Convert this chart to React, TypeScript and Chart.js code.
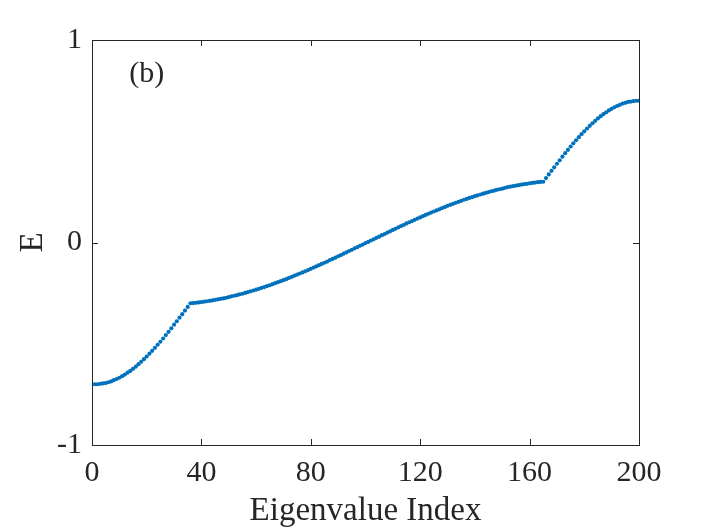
import React, { useEffect, useRef } from "react";
import { Chart, registerables } from "chart.js";
import type { Plugin } from "chart.js";

Chart.register(...registerables);

// eigenvalues, index 1..200, split by band
const BAND_1 = [
  -0.700, -0.700, -0.698, -0.696, -0.694, -0.690, -0.686, -0.680, -0.674, -0.668,
  -0.660, -0.652, -0.643, -0.634, -0.624, -0.613, -0.601, -0.589, -0.576, -0.563,
  -0.549, -0.535, -0.520, -0.505, -0.490, -0.474, -0.457, -0.441, -0.424, -0.406,
  -0.389, -0.371, -0.354, -0.336, -0.318, -0.300,
];
const BAND_2_LOW = [
  -0.299, -0.298, -0.296, -0.294, -0.292, -0.290, -0.288, -0.286, -0.283, -0.281,
  -0.278, -0.276, -0.273, -0.270, -0.266, -0.263, -0.260, -0.256, -0.253, -0.249,
  -0.245, -0.241, -0.237, -0.233, -0.229, -0.224, -0.220, -0.215, -0.211, -0.206,
  -0.201, -0.196, -0.191, -0.186, -0.181, -0.175, -0.170, -0.164, -0.159, -0.153,
  -0.148, -0.142, -0.136, -0.130, -0.124, -0.118, -0.112, -0.106, -0.100, -0.094,
  -0.087, -0.081, -0.075, -0.068, -0.062, -0.055, -0.049, -0.042, -0.036, -0.029,
  -0.023, -0.016, -0.010, -0.003,
];
const BAND_2_HIGH = [
  0.003, 0.010, 0.016, 0.023, 0.029, 0.036, 0.042, 0.049, 0.055, 0.062,
  0.068, 0.075, 0.081, 0.087, 0.094, 0.100, 0.106, 0.112, 0.118, 0.124,
  0.130, 0.136, 0.142, 0.148, 0.153, 0.159, 0.164, 0.170, 0.175, 0.181,
  0.186, 0.191, 0.196, 0.201, 0.206, 0.211, 0.215, 0.220, 0.224, 0.229,
  0.233, 0.237, 0.241, 0.245, 0.249, 0.253, 0.256, 0.260, 0.263, 0.266,
  0.270, 0.273, 0.276, 0.278, 0.281, 0.283, 0.286, 0.288, 0.290, 0.292,
  0.294, 0.296, 0.298, 0.299,
];
const BAND_3 = [
  0.300, 0.318, 0.336, 0.354, 0.371, 0.389, 0.406, 0.424, 0.441, 0.457,
  0.474, 0.490, 0.505, 0.520, 0.535, 0.549, 0.563, 0.576, 0.589, 0.601,
  0.613, 0.624, 0.634, 0.643, 0.652, 0.660, 0.668, 0.674, 0.680, 0.686,
  0.690, 0.694, 0.696, 0.698, 0.700, 0.700,
];

const X_TICKS = [0, 40, 80, 120, 160, 200];
const Y_TICKS = [-1, 0, 1];
const X_TITLE = "Eigenvalue Index";
const Y_TITLE = "E";
const PANEL_LABEL = "(b)";

const EIGENVALUES = [...BAND_1, ...BAND_2_LOW, ...BAND_2_HIGH, ...BAND_3];

const AXIS_COLOR = "#262626";
const DOT_COLOR = "#0072BD";
const SERIF = "'Liberation Serif', 'Times New Roman', serif";
const TICK_LEN = 6;

const boxPlugin: Plugin<"scatter"> = {
  id: "matlabBox",
  afterDatasetsDraw(chart) {
    const { ctx, chartArea: a, scales } = chart;
    const xs = scales.x;
    const ys = scales.y;
    ctx.save();
    ctx.strokeStyle = AXIS_COLOR;
    ctx.lineWidth = 1;
    ctx.strokeRect(a.left + 0.5, a.top + 0.5, a.right - a.left, a.bottom - a.top);

    ctx.beginPath();
    for (const t of xs.ticks) {
      const px = Math.round(xs.getPixelForValue(t.value)) + 0.5;
      ctx.moveTo(px, a.bottom);
      ctx.lineTo(px, a.bottom - TICK_LEN);
      ctx.moveTo(px, a.top);
      ctx.lineTo(px, a.top + TICK_LEN);
    }
    for (const t of ys.ticks) {
      const py = Math.round(ys.getPixelForValue(t.value)) + 0.5;
      ctx.moveTo(a.left, py);
      ctx.lineTo(a.left + TICK_LEN, py);
      ctx.moveTo(a.right, py);
      ctx.lineTo(a.right - TICK_LEN, py);
    }
    ctx.stroke();

    // panel tag in the upper-left corner
    ctx.font = `30px ${SERIF}`;
    ctx.fillStyle = AXIS_COLOR;
    ctx.textAlign = "center";
    ctx.textBaseline = "middle";
    ctx.fillText(PANEL_LABEL, xs.getPixelForValue(20), ys.getPixelForValue(0.83));
    ctx.restore();
  },
};

export default function App() {
  const canvasRef = useRef<HTMLCanvasElement | null>(null);

  useEffect(() => {
    const canvas = canvasRef.current;
    if (!canvas) return;

    const chart = new Chart(canvas, {
      type: "scatter",
      data: {
        datasets: [
          {
            data: EIGENVALUES.map((e, i) => ({ x: i + 1, y: e })),
            backgroundColor: DOT_COLOR,
            borderWidth: 0,
            pointRadius: 2.1,
            pointHoverRadius: 2.1,
          },
        ],
      },
      options: {
        responsive: false,
        animation: false,
        layout: { padding: { top: 40, right: 67, left: 0, bottom: 0 } },
        plugins: { legend: { display: false }, tooltip: { enabled: false } },
        scales: {
          x: {
            type: "linear",
            min: 0,
            max: 200,
            afterBuildTicks: (s) => {
              s.ticks = X_TICKS.map((v) => ({ value: v }));
            },
            afterFit: (s) => {
              s.height = 85;
            },
            grid: { display: false, drawTicks: false },
            border: { display: false },
            ticks: {
              padding: 10,
              color: AXIS_COLOR,
              font: { family: SERIF, size: 30 },
              maxRotation: 0,
            },
            title: {
              display: true,
              text: X_TITLE,
              color: AXIS_COLOR,
              font: { family: SERIF, size: 33, lineHeight: 1 },
              padding: { top: 0, bottom: 2 },
            },
          },
          y: {
            type: "linear",
            min: -1,
            max: 1,
            afterBuildTicks: (s) => {
              s.ticks = Y_TICKS.map((v) => ({ value: v }));
            },
            afterFit: (s) => {
              s.width = 92;
            },
            grid: { display: false, drawTicks: false },
            border: { display: false },
            ticks: {
              padding: 10,
              color: AXIS_COLOR,
              font: { family: SERIF, size: 30 },
            },
            title: {
              display: true,
              text: Y_TITLE,
              color: AXIS_COLOR,
              font: { family: SERIF, size: 33, lineHeight: 1 },
              padding: { top: 17, bottom: 0 },
            },
          },
        },
      },
      plugins: [boxPlugin],
    });

    return () => {
      chart.destroy();
    };
  }, []);

  return (
    <div style={{ position: "absolute", left: 0, top: 0, width: 706, height: 530, background: "#fff" }}>
      <canvas ref={canvasRef} width={706} height={530} />
    </div>
  );
}
